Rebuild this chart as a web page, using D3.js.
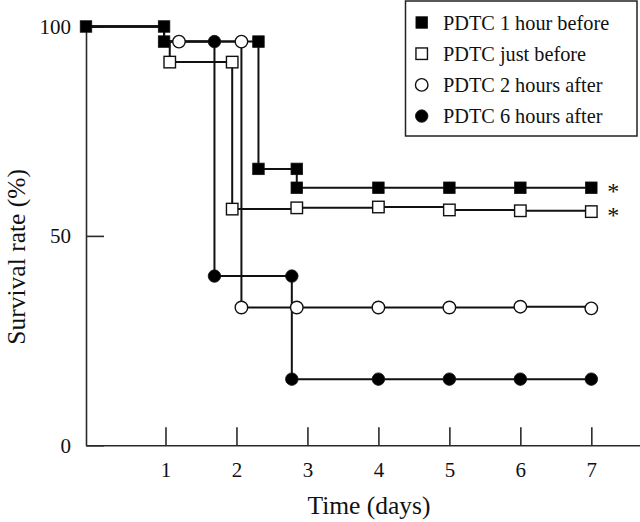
<!DOCTYPE html>
<html>
<head>
<meta charset="utf-8">
<script src="https://cdn.jsdelivr.net/npm/d3@7"></script>
<style>
  html, body { margin: 0; padding: 0; background: #fff; }
  svg { display: block; font-family: "Liberation Serif", "Times New Roman", serif; }
</style>
</head>
<body>
<svg id="chart" width="640" height="522"></svg>
<script>
// ---- Data ----
const seriesNames = ["PDTC 1 hour before", "PDTC just before", "PDTC 2 hours after", "PDTC 6 hours after"];
const seriesKinds = ["filledSquare", "openSquare", "openCircle", "filledCircle"];

// shared start of all curves (all groups at 100% then 96.4%)
const startTimes  = [-0.12, 0.98, 0.98];
const startValues = [100, 100, 96.4];

const oneHourBeforeTimes  = [2.31, 2.31, 2.85, 2.85, 4, 5, 6, 7];
const oneHourBeforeValues = [96.4, 66.0, 66.0, 61.5, 61.5, 61.5, 61.5, 61.5];

const justBeforeTimes  = [1.06, 1.94, 1.94, 2.85, 4, 5, 6, 7];
const justBeforeValues = [91.5, 91.5, 56.4, 56.7, 56.9, 56.2, 56.0, 55.8];

const twoHoursAfterTimes  = [1.19, 2.07, 2.07, 2.85, 4, 5, 6, 7];
const twoHoursAfterValues = [96.4, 96.4, 32.9, 32.9, 32.9, 32.9, 33.1, 32.7];

const sixHoursAfterTimes  = [1.69, 1.69, 2.78, 2.78, 4, 5, 6, 7];
const sixHoursAfterValues = [96.4, 40.4, 40.4, 15.8, 15.8, 15.8, 15.8, 15.8];

const xTickValues = [1, 2, 3, 4, 5, 6, 7];
const yTickValues = [0, 50, 100];
const significantSeries = ["PDTC 1 hour before", "PDTC just before"];
const xTitle = "Time (days)";
const yTitle = "Survival rate (%)";

// ---- Build ----
const zip = (t, v) => t.map((d, i) => ({ t: d, v: v[i] }));
const start = zip(startTimes, startValues);
const seriesPoints = [
  zip(oneHourBeforeTimes, oneHourBeforeValues),
  zip(justBeforeTimes, justBeforeValues),
  zip(twoHoursAfterTimes, twoHoursAfterValues),
  zip(sixHoursAfterTimes, sixHoursAfterValues)
];
const series = seriesNames.map((name, i) => ({
  name,
  kind: seriesKinds[i],
  line: start.concat(seriesPoints[i]),
  markers: i === 0 ? start.concat(seriesPoints[i]) : seriesPoints[i]
}));

const svg = d3.select("#chart");
const x = d3.scaleLinear().domain([-0.12, 7.7]).range([86, 641]);
const y = d3.scaleLinear().domain([0, 100]).range([445.3, 26.5]);

const axisColor = "#2a2a2a";

// x axis
const gx = svg.append("g").attr("transform", `translate(0,${y(0)})`)
  .call(d3.axisBottom(x).tickValues(xTickValues).tickFormat(d3.format("d"))
    .tickSizeInner(-18).tickSizeOuter(0).tickPadding(17));
gx.select(".domain").attr("stroke", axisColor).attr("stroke-width", 1.6);
gx.selectAll(".tick line").attr("stroke", axisColor).attr("stroke-width", 1.6);
gx.selectAll(".tick text").attr("font-size", 21).attr("fill", "#111")
  .attr("font-family", "Liberation Serif");

// y axis
const gy = svg.append("g").attr("transform", `translate(${x(-0.12)},0)`)
  .call(d3.axisLeft(y).tickValues(yTickValues).tickFormat(d3.format("d"))
    .tickSizeInner(-18).tickSizeOuter(0).tickPadding(15));
gy.select(".domain").attr("stroke", axisColor).attr("stroke-width", 1.6);
gy.selectAll(".tick line").attr("stroke", axisColor).attr("stroke-width", 1.6);
gy.selectAll(".tick text").attr("font-size", 21).attr("fill", "#111")
  .attr("font-family", "Liberation Serif");

// titles
svg.append("text").attr("x", 369).attr("y", 514).attr("text-anchor", "middle")
  .attr("font-size", 25.5).attr("fill", "#111").text(xTitle);
svg.append("text").attr("transform", `translate(25,${y(45)}) rotate(-90)`)
  .attr("text-anchor", "middle").attr("font-size", 25.5).attr("fill", "#111").text(yTitle);

// lines
const lineGen = d3.line().x(d => x(d.t)).y(d => y(d.v)).curve(d3.curveStepAfter);
svg.append("g").selectAll("path").data(series).join("path")
  .attr("d", d => lineGen(d.line))
  .attr("fill", "none").attr("stroke", "#111").attr("stroke-width", 2);

// markers
function drawMarker(sel, kind, size) {
  const filled = kind.startsWith("filled");
  const fill = filled ? "#000" : "#fff";
  if (kind.endsWith("Square")) {
    sel.append("rect").attr("x", -size / 2).attr("y", -size / 2)
      .attr("width", size).attr("height", size)
      .attr("fill", fill).attr("stroke", "#111").attr("stroke-width", filled ? 0.8 : 1.4);
  } else {
    sel.append("circle").attr("r", size / 2 + 0.5)
      .attr("fill", fill).attr("stroke", "#111").attr("stroke-width", filled ? 0.8 : 1.4);
  }
}
const markerOrder = [2, 1, 3, 0];
markerOrder.forEach(i => {
  const s = series[i];
  svg.append("g").selectAll("g").data(s.markers).join("g")
    .attr("transform", d => `translate(${x(d.t)},${y(d.v)})`)
    .each(function () { drawMarker(d3.select(this), s.kind, 11.5); });
});

// significance asterisks
series.filter(s => significantSeries.includes(s.name)).forEach(s => {
  const last = s.markers[s.markers.length - 1];
  svg.append("text").attr("x", x(last.t) + 22).attr("y", y(last.v) + 11)
    .attr("text-anchor", "middle").attr("font-size", 24).attr("fill", "#111").text("*");
});

// legend
const lg = svg.append("g");
lg.append("rect").attr("x", 405.5).attr("y", 1).attr("width", 231.5).attr("height", 135)
  .attr("fill", "#fff").attr("stroke", "#222").attr("stroke-width", 1.5);
series.forEach((s, i) => {
  const row = lg.append("g").attr("transform", `translate(0,${22.5 + i * 31.2})`);
  const m = row.append("g").attr("transform", "translate(421.7,0)");
  drawMarker(m, s.kind, 11.5);
  row.append("text").attr("x", 443).attr("y", 7).attr("font-size", 20.3)
    .attr("fill", "#111").text(s.name);
});
</script>
</body>
</html>
